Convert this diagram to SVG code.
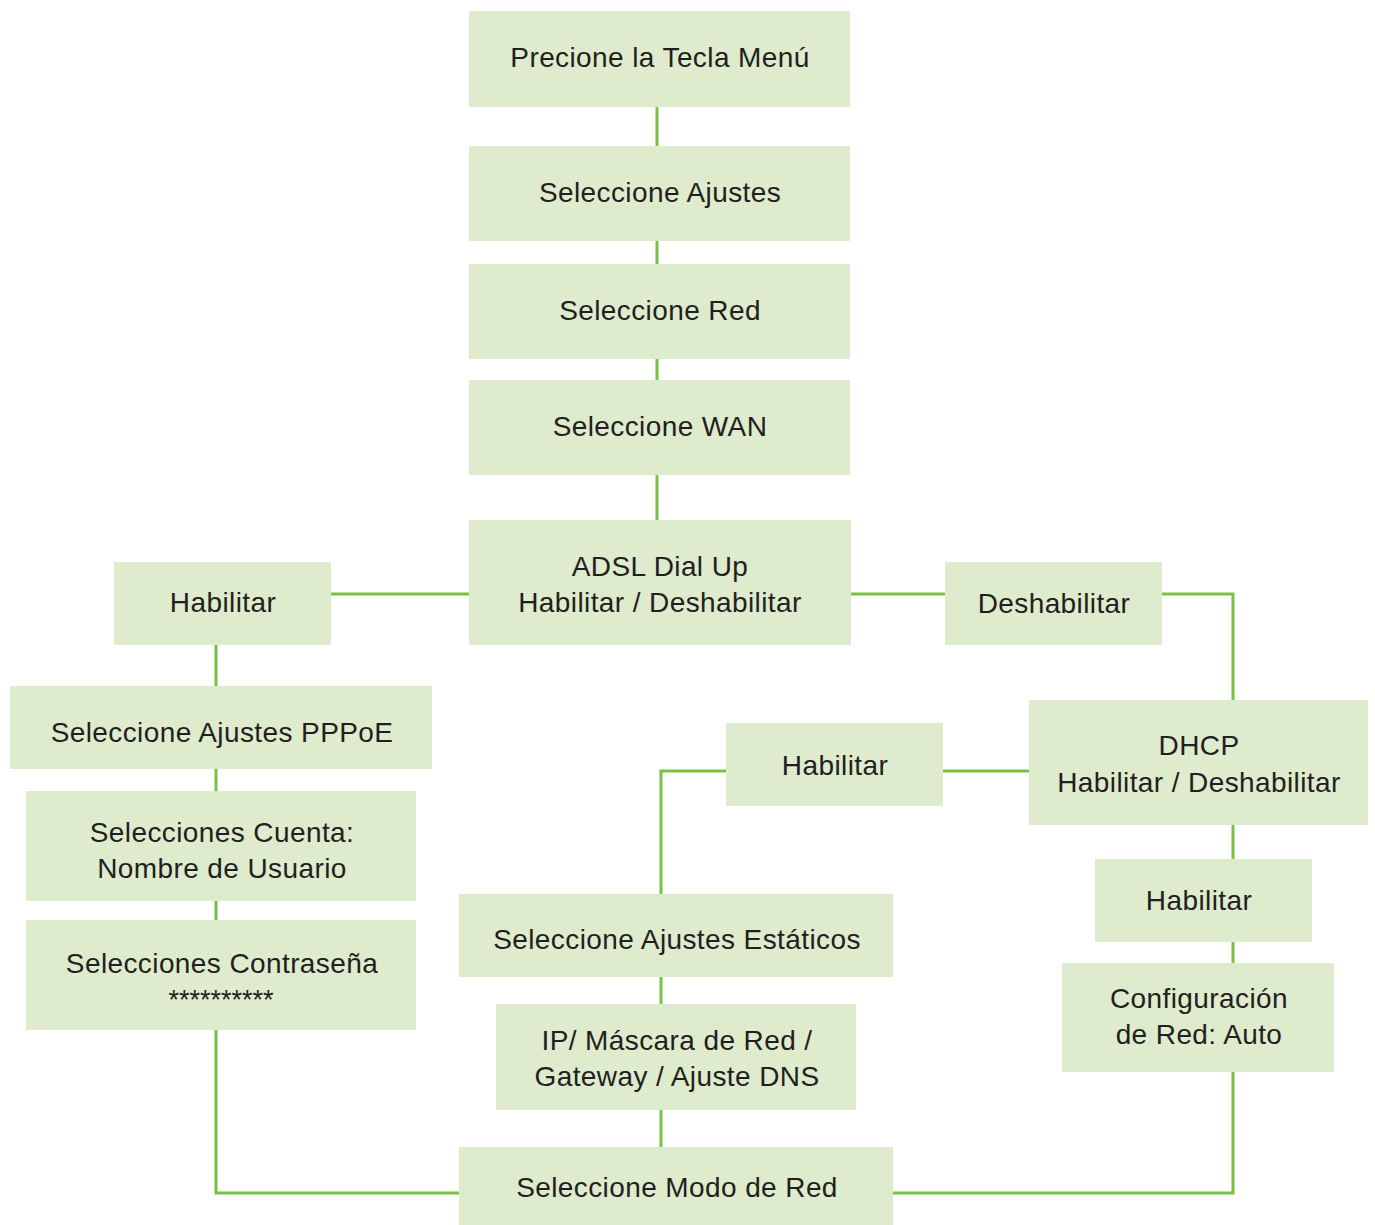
<svg xmlns="http://www.w3.org/2000/svg" width="1375" height="1225" viewBox="0 0 1375 1225">
<style>
.b{fill:#deebcd}
.t{font-family:"Liberation Sans",Arial,sans-serif;font-size:28px;letter-spacing:0.4px;fill:#231f20;text-anchor:middle}
.s{font-family:"Liberation Sans",Arial,sans-serif;font-size:27px;fill:#231f20;text-anchor:middle}
.c{fill:none;stroke:#7ac143;stroke-width:3}
</style>
<rect width="1375" height="1225" fill="#fff"/>
<g id="connectors">
<path class="c" d="M657 107V146M657 241V264M657 359V380M657 475V520"/>
<path class="c" d="M331 594H469M851 594H945"/>
<path class="c" d="M1162 594H1233V700"/>
<path class="c" d="M216 645V686M216 769V791M216 901V920M216 1030V1193H459"/>
<path class="c" d="M943 771H1029M726 771H661V894M661 977V1004M661 1110V1147"/>
<path class="c" d="M1233 825V859M1233 942V963M1233 1072V1193H893"/>
</g>
<g id="n1"><rect class="b" x="469" y="11" width="381" height="96"/><text class="t" x="660" y="67">Precione la Tecla Menú</text></g>
<g id="n2"><rect class="b" x="469" y="146" width="381" height="95"/><text class="t" x="660" y="202">Seleccione Ajustes</text></g>
<g id="n3"><rect class="b" x="469" y="264" width="381" height="95"/><text class="t" x="660" y="320">Seleccione Red</text></g>
<g id="n4"><rect class="b" x="469" y="380" width="381" height="95"/><text class="t" x="660" y="436">Seleccione WAN</text></g>
<g id="n5"><rect class="b" x="469" y="520" width="382" height="125"/><text class="t" x="660" y="576">ADSL Dial Up</text><text class="t" x="660" y="612">Habilitar / Deshabilitar</text></g>
<g id="n6"><rect class="b" x="114" y="562" width="217" height="83"/><text class="t" x="223" y="612">Habilitar</text></g>
<g id="n7"><rect class="b" x="945" y="562" width="217" height="83"/><text class="t" x="1054" y="613">Deshabilitar</text></g>
<g id="n8"><rect class="b" x="10" y="686" width="422" height="83"/><text class="t" x="222" y="742">Seleccione Ajustes PPPoE</text></g>
<g id="n9"><rect class="b" x="26" y="791" width="390" height="110"/><text class="t" x="222" y="842">Selecciones Cuenta:</text><text class="t" x="222" y="878">Nombre de Usuario</text></g>
<g id="n10"><rect class="b" x="26" y="920" width="390" height="110"/><text class="t" x="222" y="973">Selecciones Contraseña</text><text class="s" x="221" y="1009">**********</text></g>
<g id="n11"><rect class="b" x="1029" y="700" width="339" height="125"/><text class="t" x="1199" y="755">DHCP</text><text class="t" x="1199" y="792">Habilitar / Deshabilitar</text></g>
<g id="n12"><rect class="b" x="726" y="723" width="217" height="83"/><text class="t" x="835" y="775">Habilitar</text></g>
<g id="n13"><rect class="b" x="1095" y="859" width="217" height="83"/><text class="t" x="1199" y="910">Habilitar</text></g>
<g id="n14"><rect class="b" x="1062" y="963" width="272" height="109"/><text class="t" x="1199" y="1008">Configuración</text><text class="t" x="1199" y="1044">de Red: Auto</text></g>
<g id="n15"><rect class="b" x="459" y="894" width="434" height="83"/><text class="t" x="677" y="949">Seleccione Ajustes Estáticos</text></g>
<g id="n16"><rect class="b" x="496" y="1004" width="360" height="106"/><text class="t" x="677" y="1050">IP/ Máscara de Red /</text><text class="t" x="677" y="1086">Gateway / Ajuste DNS</text></g>
<g id="n17"><rect class="b" x="459" y="1147" width="434" height="78"/><text class="t" x="677" y="1197">Seleccione Modo de Red</text></g>
</svg>
